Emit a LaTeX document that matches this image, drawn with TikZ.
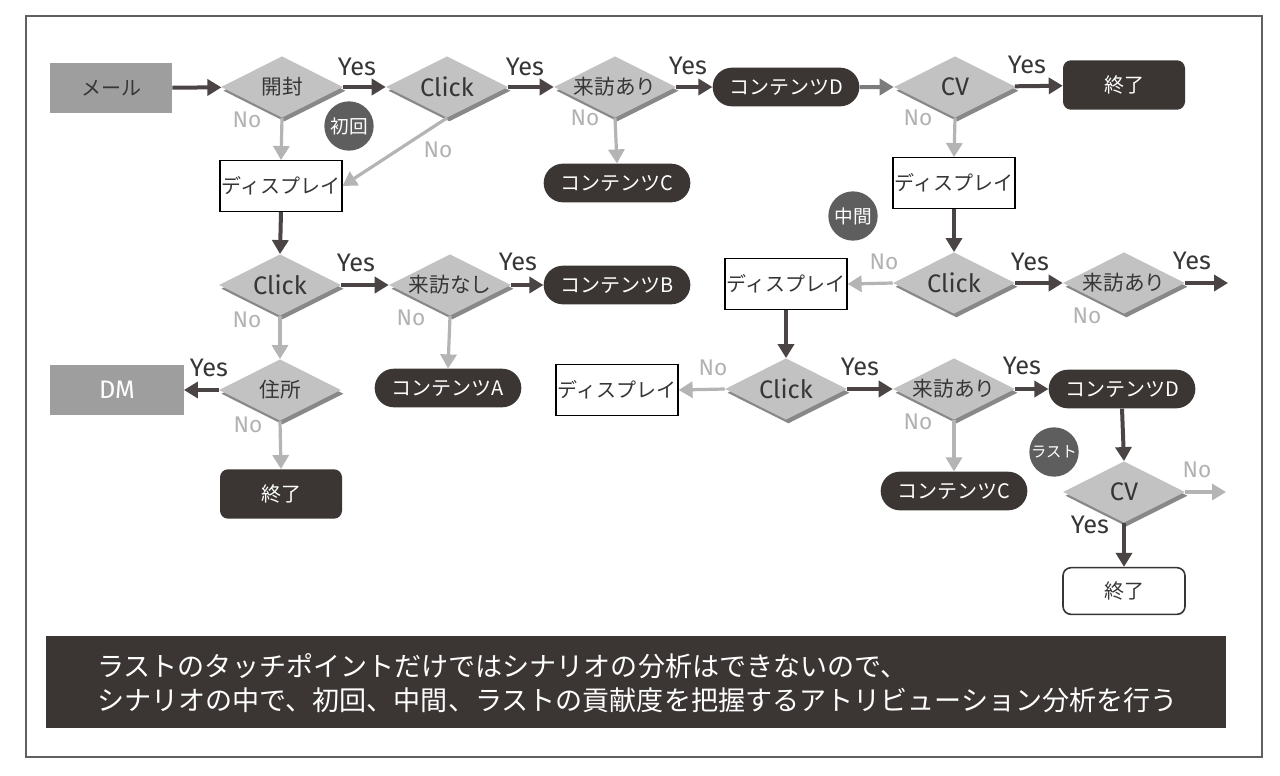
\documentclass[tikz,border=0pt]{standalone}
\usepackage{fontspec}
\setmainfont{Noto Sans CJK JP}
\newfontfamily\latf{Fira Sans}
\usetikzlibrary{shapes.geometric,shapes.misc,arrows.meta}
\definecolor{dark}{HTML}{3B3634}
\definecolor{diafill}{HTML}{C2C2C2}
\definecolor{diashadow}{HTML}{888888}
\definecolor{mgray}{HTML}{9E9E9E}
\definecolor{circc}{HTML}{5E5E5E}
\definecolor{ardark}{HTML}{4A4444}
\definecolor{argray}{HTML}{B4B4B4}
\definecolor{armid}{HTML}{7C7C7C}
\definecolor{tdark}{HTML}{363636}
\definecolor{nogray}{HTML}{B2B2B2}
\definecolor{framec}{HTML}{606060}
\begin{document}
\begin{tikzpicture}[x=0.75pt,y=-0.75pt,
  jp/.style={font=\fontsize{15}{17}\selectfont},
  dialbl/.style={text=tdark, inner sep=0pt, font=\fontsize{15.5}{17}\selectfont},
  dia/.style={diamond, fill=diafill, minimum width=91.5pt, minimum height=46pt, inner sep=0pt,
    preaction={fill=diashadow, transform canvas={shift={(1.8pt,-2.8pt)}}},
    label={[dialbl]center:{#1}}},
  pill/.style={rounded rectangle, fill=dark, text=white, minimum width=110pt, minimum height=29pt, inner sep=0pt, jp},
  endbox/.style={rectangle, rounded corners=6pt, fill=dark, text=white, minimum width=91.5pt, minimum height=37pt, inner sep=0pt, jp},
  endwhite/.style={rectangle, rounded corners=6pt, draw=tdark, line width=1.2pt, fill=white, text=tdark, minimum width=91.5pt, minimum height=35pt, inner sep=0pt, jp},
  disp/.style={rectangle, draw=black, line width=0.9pt, fill=white, text=tdark, minimum width=91.5pt, minimum height=38pt, inner sep=0pt, jp},
  gbox/.style={rectangle, fill=mgray, minimum width=91.5pt, minimum height=38pt, inner sep=0pt, jp},
  circ/.style={circle, fill=circc, text=white, minimum size=37pt, inner sep=0pt},
  yarr/.style={draw=ardark, line width=3pt, -{Triangle[length=10.5pt,width=12pt]}},
  marr/.style={draw=armid, line width=3pt, -{Triangle[length=10.5pt,width=12pt]}},
  narr/.style={draw=argray, line width=2.4pt, -{Triangle[length=10.5pt,width=12pt]}},
  ylbl/.style={text=tdark, inner sep=0pt, font=\latf\fontsize{19}{20}\selectfont},
  nlbl/.style={text=nogray, inner sep=0pt, font=\latf\fontsize{17}{18}\selectfont}
]
\useasboundingbox (0,0) rectangle (1280,775);
\fill[white] (0,0) rectangle (1280,775);
\draw[framec, line width=1.1pt] (26,16) rectangle (1262,757);

% ---------- row 1 ----------
\node[gbox, text=tdark] (mail) at (111,88) {メール};
\node[dia={開封}] (open) at (282,87) {};
\node[dia={{\latf\fontsize{19}{20}\selectfont Click}}] (c1) at (447,87) {};
\node[dia={来訪あり}] (v1) at (615,87) {};
\node[pill] (cd1) at (786,87) {コンテンツD};
\node[dia={{\latf\fontsize{19}{20}\selectfont CV}}] (cv1) at (955,87) {};
\node[endbox] (end1) at (1124,85) {終了};

\node[circ, font=\fontsize{14}{15}\selectfont] (first) at (349,126) {初回};
\node[disp] (disp1) at (281,186) {ディスプレイ};
\node[pill] (cc1) at (617,183) {コンテンツC};
\node[disp] (disp2) at (954,183) {ディスプレイ};
\node[circ, font=\fontsize{14}{15}\selectfont] (mid) at (853,216) {中間};

% ---------- row 3 ----------
\node[dia={{\latf\fontsize{19}{20}\selectfont Click}}] (c3) at (280,285) {};
\node[dia={来訪なし}] (vn) at (450,285) {};
\node[pill] (cb) at (617,285) {コンテンツB};
\node[disp] (disp3) at (786,284) {ディスプレイ};
\node[dia={{\latf\fontsize{19}{20}\selectfont Click}}] (c2) at (954,283) {};
\node[dia={来訪あり}] (v2) at (1124,283) {};
\coordinate (v2out) at (1228,283);

% ---------- row 4 ----------
\node[gbox, text=white, minimum width=100pt, font=\latf\fontsize{19}{20}\selectfont] (dm) at (117,390) {DM};
\node[dia={住所}] (addr) at (280,390) {};
\node[pill] (ca) at (448,388) {コンテンツA};
\node[disp] (disp4) at (617,390) {ディスプレイ};
\node[dia={{\latf\fontsize{19}{20}\selectfont Click}}] (c4) at (786,389) {};
\node[dia={来訪あり}] (v3) at (954,389) {};
\node[pill] (cd2) at (1122,389) {コンテンツD};
\node[endbox] (end2) at (281,494) {終了};
\node[pill] (cc2) at (954,491) {コンテンツC};
\node[circ, font=\fontsize{11.5}{12}\selectfont] (last) at (1054,452) {ラスト};
\node[dia={{\latf\fontsize{19}{20}\selectfont CV}}] (cv2) at (1124,492) {};
\coordinate (cv2out) at (1226,492);
\node[endwhite] (end3) at (1124,591) {終了};

% ---------- connectors ----------
\draw[yarr] (mail) -- (open);
\draw[yarr] (open) -- (c1);
\draw[yarr] (c1) -- (v1);
\draw[yarr] (v1) -- (cd1);
\draw[marr] (cd1) -- (cv1);
\draw[yarr] (cv1) -- (end1);
\draw[narr] (open.south) -- (disp1.north);
\draw[narr] (c1.south) -- (disp1.east);
\draw[narr] (v1.south) -- (cc1.north);
\draw[narr] (cv1.south) -- (disp2.north);
\draw[yarr] (disp2.south) -- (c2.north);
\draw[yarr] (disp1.south) -- (c3.north);
\draw[yarr] (c3) -- (vn);
\draw[yarr] (vn) -- (cb);
\draw[narr] (c3.south) -- (addr.north);
\draw[narr] (vn.south) -- (ca.north);
\draw[narr] (c2.west) -- (disp3.east);
\draw[yarr] (c2) -- (v2);
\draw[yarr] (v2.east) -- (v2out);
\draw[yarr] (disp3.south) -- (c4.north);
\draw[narr] (c4.west) -- (disp4.east);
\draw[yarr] (c4) -- (v3);
\draw[yarr] (v3) -- (cd2);
\draw[narr] (v3.south) -- (cc2.north);
\draw[yarr] (cd2.south) -- (cv2.north);
\draw[narr] (cv2.east) -- (cv2out);
\draw[yarr] (cv2.south) -- (end3.north);
\draw[yarr] (addr.west) -- (dm.east);
\draw[narr] (addr.south) -- (end2.north);

% ---------- Yes / No labels ----------
\node[ylbl] (y1) at (357,67) {Yes};
\node[ylbl] (y2) at (525,67) {Yes};
\node[ylbl] (y3) at (688,66) {Yes};
\node[ylbl] (y4) at (1027,65) {Yes};
\node[ylbl] (y5) at (356,263) {Yes};
\node[ylbl] (y6) at (518,262) {Yes};
\node[ylbl] (y7) at (1030,262) {Yes};
\node[ylbl] (y8) at (1192,261) {Yes};
\node[ylbl] (y9) at (209,368) {Yes};
\node[ylbl] (y10) at (860,367) {Yes};
\node[ylbl] (y11) at (1022,366) {Yes};
\node[ylbl] (y12) at (1090,525) {Yes};

\node[nlbl] (n1) at (247,120) {No};
\node[nlbl] (n2) at (438,150) {No};
\node[nlbl] (n3) at (585,118) {No};
\node[nlbl] (n4) at (918,118) {No};
\node[nlbl] (n5) at (247,320) {No};
\node[nlbl] (n6) at (411,318) {No};
\node[nlbl] (n7) at (884,262) {No};
\node[nlbl] (n8) at (1087,316) {No};
\node[nlbl] (n9) at (248,425) {No};
\node[nlbl] (n10) at (713,368) {No};
\node[nlbl] (n11) at (918,422) {No};
\node[nlbl] (n12) at (1197,470) {No};

% ---------- banner ----------
\node[rectangle, fill=dark, minimum width=885pt, minimum height=69pt, inner sep=0pt] (banner) at (636,682) {};
\node[anchor=west, text=white, align=left, inner sep=0pt, font=\fontsize{20.3}{25.5}\selectfont] (bantext) at (97,683)
  {ラストのタッチポイントだけではシナリオの分析はできないので、\\シナリオの中で、初回、中間、ラストの貢献度を把握するアトリビューション分析を行う};
\end{tikzpicture}
\end{document}
